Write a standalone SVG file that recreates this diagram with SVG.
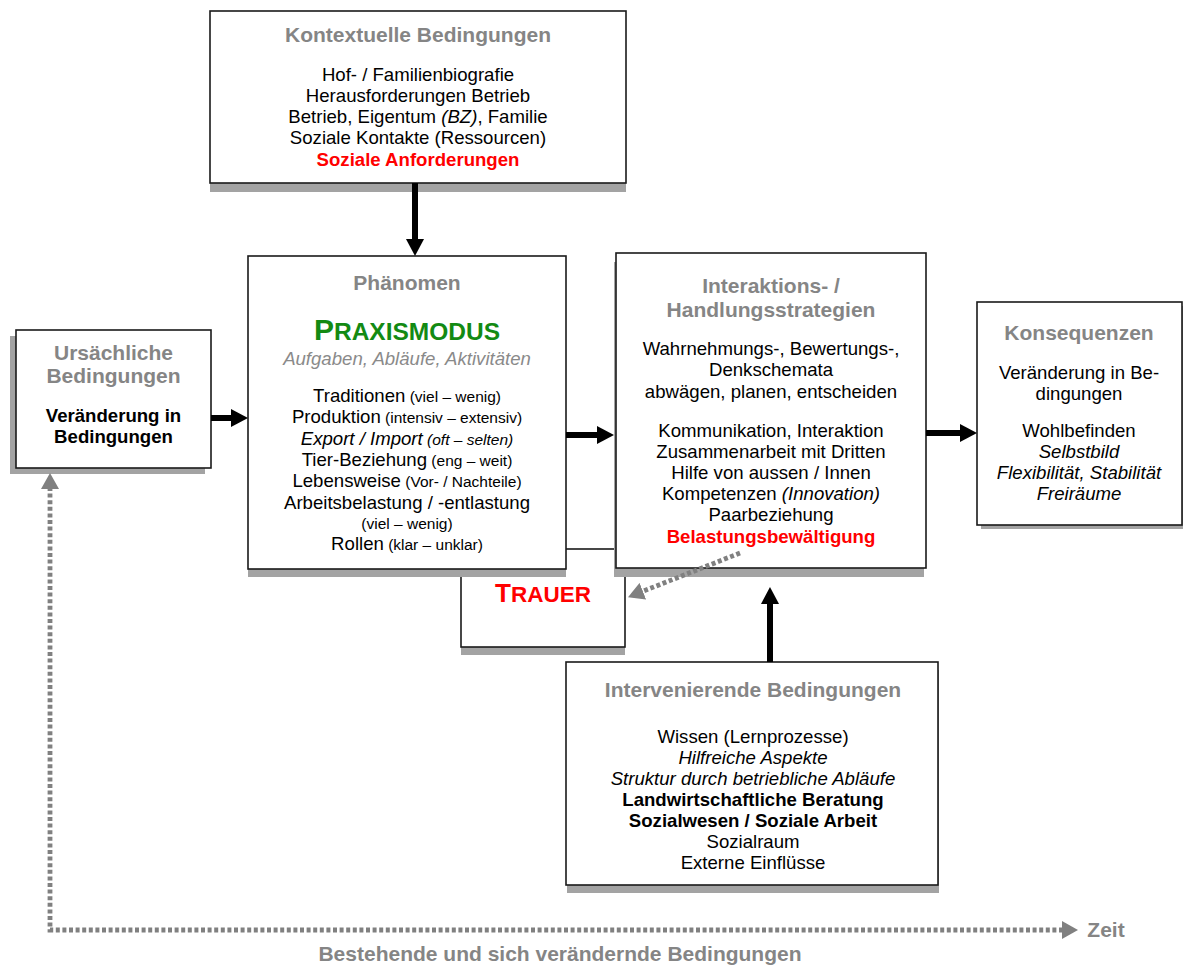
<svg xmlns="http://www.w3.org/2000/svg" width="1183" height="970" viewBox="0 0 1183 970">
<style>
text{font-family:"Liberation Sans",Arial,sans-serif;text-anchor:middle;fill:#000;font-size:18.6px}
.box{fill:#fff;stroke:#1a1a1a;stroke-width:1.6}
.sh{fill:#a3a3a3}
.ttl{font-weight:bold;fill:#858585;font-size:21px}
.sm{font-size:15.5px}
.it{font-style:italic}
.b{font-weight:bold}
.red{fill:#ff0000;font-weight:bold}
.conn{stroke:#000;stroke-width:6;fill:none}
.dot{stroke:#808080;stroke-width:4.8;fill:none;stroke-dasharray:4 2.6}
</style>
<defs>
<marker id="ah" viewBox="0 0 17 18" refX="2" refY="9" markerWidth="17" markerHeight="18" markerUnits="userSpaceOnUse" orient="auto">
<path d="M0,0 L17,9 L0,18 z" fill="#000"/>
</marker>
<marker id="gh" viewBox="0 0 16 18" refX="2" refY="9" markerWidth="16" markerHeight="18" markerUnits="userSpaceOnUse" orient="auto-start-reverse">
<path d="M0,0 L16,9 L0,18 z" fill="#808080"/>
</marker>
</defs>
<rect width="1183" height="970" fill="#fff"/>

<g id="trauer">
<rect class="sh" x="461" y="557" width="164" height="98"/>
<rect class="box" x="461" y="549" width="164" height="98"/>
<text x="543" y="602" class="red"><tspan font-size="26px">T</tspan><tspan font-size="22.5px">RAUER</tspan></text>
</g>

<g id="kontextuelle">
<rect class="sh" x="210" y="20" width="416" height="172"/>
<rect class="box" x="210" y="11" width="416" height="172"/>
<text x="418" y="42" class="ttl">Kontextuelle Bedingungen</text>
<text x="418" y="81">Hof- / Familienbiografie</text>
<text x="418" y="102">Herausforderungen Betrieb</text>
<text x="418" y="123">Betrieb, Eigentum <tspan class="it">(BZ)</tspan>, Familie</text>
<text x="418" y="144">Soziale Kontakte (Ressourcen)</text>
<text x="418" y="166" class="red">Soziale Anforderungen</text>
</g>

<g id="phaenomen">
<rect class="sh" x="248" y="264" width="318" height="313"/>
<rect class="box" x="248" y="256" width="318" height="313"/>
<text x="407" y="290" class="ttl">Phänomen</text>
<text x="407" y="340" font-weight="bold" style="fill:#138a13"><tspan font-size="30px">P</tspan><tspan font-size="24.5px">RAXISMODUS</tspan></text>
<text x="407" y="365" class="it" style="fill:#8a8a8a">Aufgaben, Abläufe, Aktivitäten</text>
<text x="407" y="402">Traditionen<tspan class="sm"> (viel – wenig)</tspan></text>
<text x="407" y="423">Produktion<tspan class="sm"> (intensiv – extensiv)</tspan></text>
<text x="407" y="445" class="it">Export / Import<tspan class="sm"> (oft – selten)</tspan></text>
<text x="407" y="466">Tier-Beziehung<tspan class="sm"> (eng – weit)</tspan></text>
<text x="407" y="487">Lebensweise<tspan class="sm"> (Vor- / Nachteile)</tspan></text>
<text x="407" y="509">Arbeitsbelastung / -entlastung</text>
<text x="407" y="529" class="sm">(viel – wenig)</text>
<text x="407" y="550">Rollen<tspan class="sm"> (klar – unklar)</tspan></text>
</g>

<g id="interaktion">
<rect class="sh" x="614" y="262" width="310" height="315"/>
<rect class="box" x="616" y="253" width="310" height="315"/>
<text x="771" y="293" class="ttl">Interaktions- /</text>
<text x="771" y="317" class="ttl">Handlungsstrategien</text>
<text x="771" y="355">Wahrnehmungs-, Bewertungs-,</text>
<text x="771" y="376">Denkschemata</text>
<text x="771" y="398">abwägen, planen, entscheiden</text>
<text x="771" y="437">Kommunikation, Interaktion</text>
<text x="771" y="458">Zusammenarbeit mit Dritten</text>
<text x="771" y="479">Hilfe von aussen / Innen</text>
<text x="771" y="500">Kompetenzen <tspan class="it">(Innovation)</tspan></text>
<text x="771" y="521">Paarbeziehung</text>
<text x="771" y="543" class="red">Belastungsbewältigung</text>
</g>

<g id="konsequenzen">
<rect class="sh" x="981" y="306" width="205" height="223"/>
<rect class="box" x="977" y="302" width="205" height="223"/>
<text x="1079" y="340" class="ttl">Konsequenzen</text>
<text x="1079" y="379">Veränderung in Be-</text>
<text x="1079" y="400">dingungen</text>
<text x="1079" y="437">Wohlbefinden</text>
<text x="1079" y="458" class="it">Selbstbild</text>
<text x="1079" y="479" class="it">Flexibilität, Stabilität</text>
<text x="1079" y="500" class="it">Freiräume</text>
</g>

<g id="ursaechliche">
<rect class="sh" x="10" y="336" width="195" height="138"/>
<rect class="box" x="16" y="330" width="195" height="138"/>
<text x="113.5" y="360" class="ttl">Ursächliche</text>
<text x="113.5" y="383" class="ttl">Bedingungen</text>
<text x="113.5" y="422" class="b">Veränderung in</text>
<text x="113.5" y="443" class="b">Bedingungen</text>
</g>

<g id="intervenierende">
<rect class="sh" x="567" y="670" width="372" height="223"/>
<rect class="box" x="566" y="662" width="372" height="223"/>
<text x="753" y="697" class="ttl">Intervenierende Bedingungen</text>
<text x="753" y="743">Wissen (Lernprozesse)</text>
<text x="753" y="764" class="it">Hilfreiche Aspekte</text>
<text x="753" y="785" class="it">Struktur durch betriebliche Abläufe</text>
<text x="753" y="806" class="b">Landwirtschaftliche Beratung</text>
<text x="753" y="827" class="b">Sozialwesen / Soziale Arbeit</text>
<text x="753" y="848">Sozialraum</text>
<text x="753" y="869">Externe Einflüsse</text>
</g>

<g id="connectors">
<path class="conn" d="M415,183 V241" marker-end="url(#ah)"/>
<path class="conn" d="M211,418 H233" marker-end="url(#ah)"/>
<path class="conn" d="M566,435 H599" marker-end="url(#ah)"/>
<path class="conn" d="M926,433 H962" marker-end="url(#ah)"/>
<path class="conn" d="M770,662 V602" marker-end="url(#ah)"/>
<path class="dot" d="M740,553 L641,592" marker-end="url(#gh)"/>
<path class="dot" d="M50,487 V930 H1064" marker-start="url(#gh)" marker-end="url(#gh)"/>
</g>

<g id="labels">
<text x="1106" y="937" class="ttl">Zeit</text>
<text x="560" y="961" class="ttl">Bestehende und sich verändernde Bedingungen</text>
</g>
</svg>
